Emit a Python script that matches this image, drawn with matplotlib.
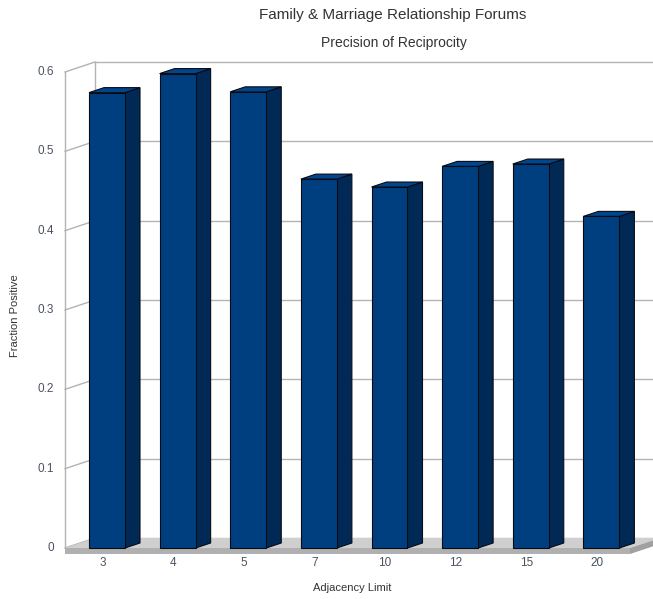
import matplotlib.pyplot as plt
from matplotlib.patches import Polygon

plt.rcParams['font.family'] = ['Liberation Sans', 'DejaVu Sans']

limits = ["3", "4", "5", "7", "10", "12", "15", "20"]
fraction_positive = [0.574, 0.598, 0.575, 0.465, 0.455, 0.481, 0.484, 0.418]
y_ticks = [0, 0.1, 0.2, 0.3, 0.4, 0.5, 0.6]
y_tick_labels = ["0", "0.1", "0.2", "0.3", "0.4", "0.5", "0.6"]

W, H = 653, 599
fig = plt.figure(figsize=(W / 100, H / 100), dpi=100)
ax = fig.add_axes([65 / W, (H - 548) / H, 565 / W, 476 / H])
n = len(limits)
ax.set_xlim(-0.5, n - 0.5)
ax.set_ylim(0, 0.6)
ax.axis('off')

# pixel -> data unit factors for the fake 3d depth
px_x = n / 565
px_y = 0.6 / 476
wall_dx, wall_dy = 30 * px_x, 10 * px_y
bar_dx, bar_dy = 15 * px_x, 5 * px_y
slab = 6 * px_y
x0, x1 = -0.5, n - 0.5
grid_c = '#b3b3b3'

# back wall grid + left wall
for v in y_ticks:
    ax.plot([x0 + wall_dx, x1 + wall_dx + 1], [v + wall_dy, v + wall_dy],
            color=grid_c, lw=1, clip_on=False, zorder=1)
    ax.plot([x0, x0 + wall_dx], [v, v + wall_dy],
            color=grid_c, lw=1, clip_on=False, zorder=1)
ax.plot([x0, x0], [0, 0.6], color=grid_c, lw=1, clip_on=False, zorder=1)
ax.plot([x0 + wall_dx] * 2, [wall_dy, 0.6 + wall_dy], color=grid_c, lw=1,
        clip_on=False, zorder=1)

# floor
floor_top = Polygon([(x0, 0), (x1, 0), (x1 + wall_dx, wall_dy), (x0 + wall_dx, wall_dy)],
                    closed=True, fc='#cfcfcf', ec='none', clip_on=False, zorder=2)
floor_front = Polygon([(x0, 0), (x1, 0), (x1, -slab), (x0, -slab)],
                      closed=True, fc='#b0b0b0', ec='none', clip_on=False, zorder=2)
floor_side = Polygon([(x1, 0), (x1 + wall_dx, wall_dy), (x1 + wall_dx, wall_dy - slab), (x1, -slab)],
                     closed=True, fc='#a0a0a0', ec='none', clip_on=False, zorder=2)
for p in (floor_top, floor_front, floor_side):
    ax.add_patch(p)

# bars
bw = 36 * px_x
for i, v in enumerate(fraction_positive):
    left = i - 0.5 + 24 * px_x
    right = left + bw
    side = Polygon([(right, 0), (right + bar_dx, bar_dy), (right + bar_dx, v + bar_dy), (right, v)],
                   closed=True, fc='#002a55', ec='#0a0a14', lw=0.8, clip_on=False, zorder=3)
    top = Polygon([(left, v), (right, v), (right + bar_dx, v + bar_dy), (left + bar_dx, v + bar_dy)],
                  closed=True, fc='#00468c', ec='#0a0a14', lw=0.8, clip_on=False, zorder=3)
    front = Polygon([(left, 0), (right, 0), (right, v), (left, v)],
                    closed=True, fc='#003f7f', ec='#0a0a14', lw=0.8, clip_on=False, zorder=4)
    for p in (side, top, front):
        ax.add_patch(p)

# tick labels
tick_c = '#4a5260'
for v, lab in zip(y_ticks, y_tick_labels):
    ax.text(x0 - 11 * px_x, v, lab, ha='right', va='center', fontsize=8.5,
            color=tick_c, clip_on=False)
for i, lab in enumerate(limits):
    ax.text(i + 0.03, -15 * px_y, lab, ha='center', va='center', fontsize=8.5,
            color=tick_c, clip_on=False)

fig.text(393 / W, 1 - 15 / H, "Family & Marriage Relationship Forums", ha='center',
         va='center', fontsize=11, color='#333333')
fig.text(394 / W, 1 - 43 / H, "Precision of Reciprocity", ha='center', va='center',
         fontsize=10, color='#333333')
fig.text(15 / W, 1 - 316 / H, "Fraction Positive", rotation=90, ha='center',
         va='center', fontsize=8, color='#333333')
fig.text(352 / W, 1 - 588 / H, "Adjacency Limit", ha='center', va='center',
         fontsize=8, color='#333333')

fig.savefig('out.png', dpi=100)
